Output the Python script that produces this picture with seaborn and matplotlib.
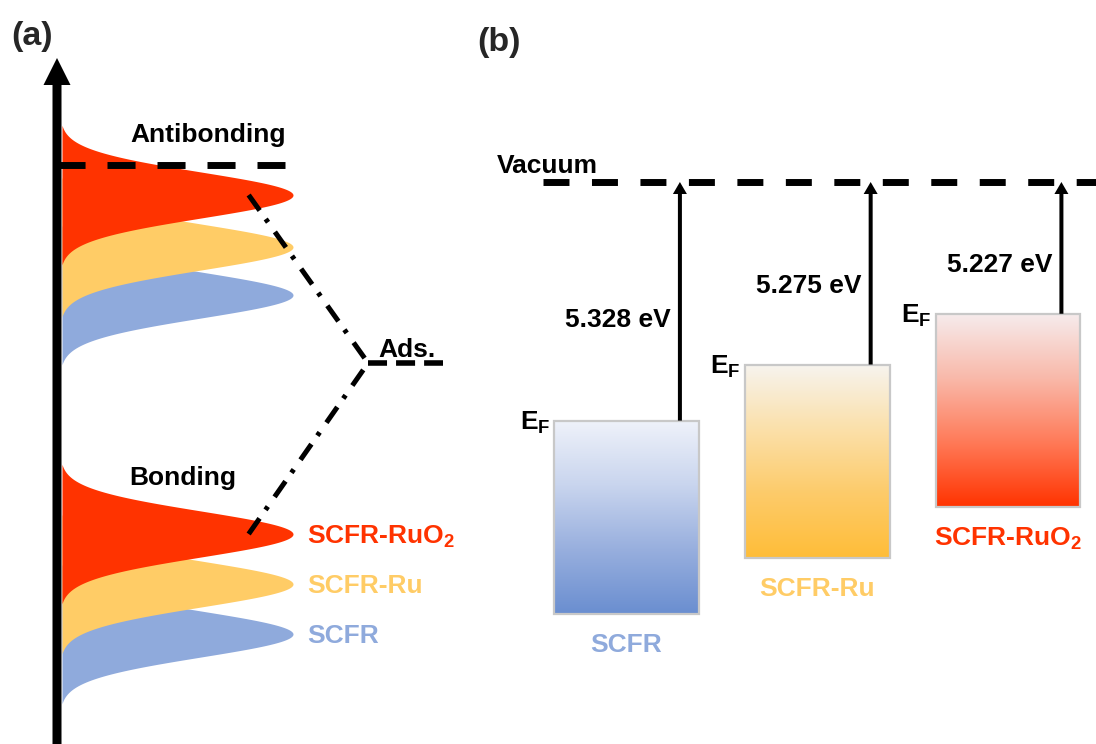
import numpy as np
import matplotlib
matplotlib.use("Agg")
import matplotlib.pyplot as plt
import seaborn as sns
from matplotlib.colors import LinearSegmentedColormap
from matplotlib.patches import Rectangle

# ------------------------------------------------------------------ data
materials = ["SCFR", "SCFR-Ru", "SCFR-RuO2"]
material_labels = ["SCFR", "SCFR-Ru", r"SCFR-RuO$_\mathbf{2}$"]
work_function = [5.328, 5.275, 5.227]          # eV
wf_labels = ["5.328 eV", "5.275 eV", "5.227 eV"]

# panel (a): schematic d-band states (arbitrary energy units)
antibonding_centre = [4.49, 4.97, 5.49]        # SCFR, SCFR-Ru, SCFR-RuO2
bonding_centre = [1.10, 1.60, 2.10]
band_width = 0.325
antibonding_level = 5.79
ads_level = 3.81

fill_colors = ["#8FAADC", "#FFCC66", "#FF3300"]
text_colors = ["#8FAADC", "#FFCC66", "#FF3300"]
grad_colors = [["#EFF2FA", "#C9D5EE", "#98AFDE", "#6A8ED0"],
               ["#F7F4EF", "#FBE0AA", "#FDCB6A", "#FFBD38"],
               ["#F6ECED", "#F9B9AA", "#FF7A58", "#FF3300"]]

# ------------------------------------------------------------------ style
sns.set_theme(style="white")
plt.rcParams["font.family"] = ["Liberation Sans", "DejaVu Sans"]
plt.rcParams["mathtext.fontset"] = "custom"
plt.rcParams["mathtext.bf"] = "Liberation Sans:bold"
plt.rcParams["mathtext.rm"] = "Liberation Sans"
plt.rcParams["lines.scale_dashes"] = False
FS = 19

W, H = 1096, 744
fig = plt.figure(figsize=(W / 100, H / 100), dpi=100)

# ---------------------------------------------------------------- panel a
# x: density of states (peak = 1), y: energy (a.u.)
ax_a = fig.add_axes([0, 0, 1, 1])
PX_DOS, X0 = 231.0, 62.0
ax_a.set_xlim(-X0 / PX_DOS, (W - X0) / PX_DOS)
ax_a.set_ylim(0, H / 100)
ax_a.axis("off")

# SCFR drawn first (bottom), SCFR-RuO2 last (top)
for centres in (antibonding_centre, bonding_centre):
    for i in [0, 1, 2]:
        c = centres[i]
        E = np.linspace(c - 0.9, c + 0.9, 600)
        g = np.exp(-((E - c) / band_width) ** 2)
        dos = np.clip((g - 0.01) / 0.99, 0, None)
        ax_a.fill_betweenx(E, 0, dos, color=fill_colors[i], lw=0, zorder=1)

# antibonding dashed level
sns.lineplot(x=[-0.022, 0.965], y=[antibonding_level, antibonding_level], ax=ax_a,
             color="black", lw=5, linestyle=(0, (20.2, 15.8)), sort=False,
             estimator=None, zorder=3)
# adsorbate level
ads_x0, ads_x1 = 1.325, 1.65
sns.lineplot(x=[ads_x0, ads_x1], y=[ads_level, ads_level], ax=ax_a,
             color="black", lw=4, linestyle=(0, (13.7, 6.5)), sort=False,
             estimator=None, zorder=3)
# dash-dot connections from RuO2 peaks to adsorbate level
for c in (antibonding_centre[2], bonding_centre[2]):
    sns.lineplot(x=[0.808, ads_x0], y=[c, ads_level], ax=ax_a, color="black",
                 lw=3.6, linestyle=(0, (13.7, 7.5, 2.9, 8.5)), sort=False,
                 estimator=None, zorder=3)

# energy axis arrow
ax_a.arrow(-5 / PX_DOS, -0.1, 0, (H - 58) / 100 + 0.1, width=9 / PX_DOS,
           head_width=27 / PX_DOS, head_length=0.27, length_includes_head=True,
           color="black", lw=0, zorder=5)

ax_a.text(0.632, antibonding_level + 0.23, "Antibonding", ha="center", va="baseline",
          fontsize=FS, fontweight="bold", color="black")
ax_a.text(0.524, bonding_centre[2] + 0.49, "Bonding", ha="center", va="baseline",
          fontsize=FS, fontweight="bold", color="black")
ax_a.text(1.368, ads_level + 0.06, "Ads.", ha="left", va="baseline",
          fontsize=FS, fontweight="bold", color="black")
for i in range(3):
    ax_a.text(1.06, bonding_centre[i] - 0.09, material_labels[i], ha="left",
              va="baseline", fontsize=FS, fontweight="bold", color=text_colors[i])

# ---------------------------------------------------------------- panel b
# x: material index, y: energy (eV, E_F = -work function; vacuum level drawn
# schematically above with a broken scale)
ax_b = fig.add_axes([0, 0, 1, 1])
ax_b.patch.set_alpha(0)
PX_CAT, XC0 = 190.75, 626.5
PX_EV, YREF, WFREF = 1058.0, 366.33, 5.2767
ax_b.axis("off")

vac_drawn = -(WFREF - (YREF - 182) / PX_EV)   # schematic vacuum level position
box_w, box_h = 0.76, 0.183
arrow_dx = 0.28

sns.lineplot(x=[(543 - XC0) / PX_CAT, (W - XC0) / PX_CAT], y=[vac_drawn, vac_drawn],
             ax=ax_b, color="black", lw=5, linestyle=(0, (18.7, 16.2)),
             sort=False, estimator=None, zorder=3)
ax_b.text(-0.679, vac_drawn + 9 / PX_EV, "Vacuum", ha="left", va="baseline",
          fontsize=FS, fontweight="bold", color="black")

wf_label_drop_px = [145, 111, 90]
grad = np.linspace(0, 1, 256).reshape(-1, 1)
for i, wf in enumerate(work_function):
    top = -wf
    bottom = top - box_h
    left, right = i - box_w / 2, i + box_w / 2
    cmap = LinearSegmentedColormap.from_list(materials[i], grad_colors[i])
    ax_b.imshow(grad, extent=(left, right, bottom, top), origin="upper",
                cmap=cmap, aspect="auto", interpolation="bilinear", zorder=1)
    ax_b.add_patch(Rectangle((left, bottom), box_w, box_h, fill=False,
                             ec="#C8C8C8", lw=1.6, zorder=2))
    xa = i + arrow_dx
    ax_b.arrow(xa, top, 0, vac_drawn - top, width=4 / PX_CAT,
               head_width=14 / PX_CAT, head_length=12 / PX_EV,
               length_includes_head=True, color="black", lw=0, zorder=4)
    ax_b.text(xa - 9 / PX_CAT, vac_drawn - wf_label_drop_px[i] / PX_EV, wf_labels[i],
              ha="right", va="baseline", fontsize=FS, fontweight="bold", color="black")
    ax_b.text(left - 4 / PX_CAT, top - 9 / PX_EV, r"$\mathbf{E}_\mathbf{F}$",
              ha="right", va="baseline", fontsize=FS, color="black")
    ax_b.text(i, bottom - 38 / PX_EV, material_labels[i], ha="center", va="baseline",
              fontsize=FS, fontweight="bold", color=text_colors[i])

ax_b.set_xlim(-XC0 / PX_CAT, (W - XC0) / PX_CAT)
ax_b.set_ylim(-(WFREF + (H - YREF) / PX_EV), -(WFREF - YREF / PX_EV))

fig.text(32 / W, 1 - 36 / H, "(a)", ha="center", va="center", fontsize=24.5,
         fontweight="bold")
fig.text(499 / W, 1 - 42 / H, "(b)", ha="center", va="center", fontsize=24.5,
         fontweight="bold")

fig.savefig("out.png", dpi=100, facecolor="white")
